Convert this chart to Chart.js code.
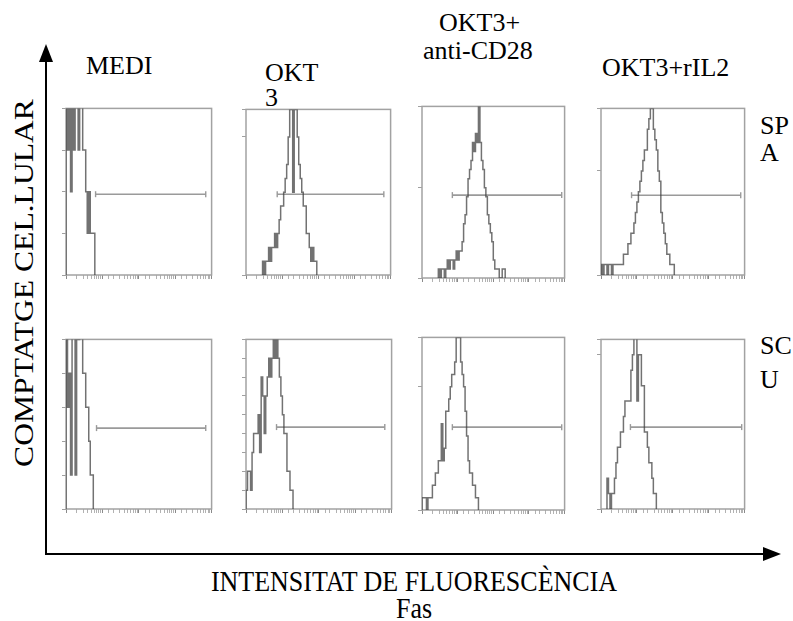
<!DOCTYPE html>
<html>
<head>
<meta charset="utf-8">
<script src="https://cdn.jsdelivr.net/npm/chart.js@4.4.1/dist/chart.umd.min.js"></script>
<style>
  html, body { margin: 0; padding: 0; background: #fff; }
  #page { position: relative; width: 793px; height: 621px; overflow: hidden; color: #000; }
  .serif { font-family: "Liberation Serif", "DejaVu Serif", serif; }
  .lbl { position: absolute; font-size: 26px; line-height: 26px; white-space: nowrap; }
  .axis-title { position: absolute; left: 114px; width: 600px; text-align: center;
                font-size: 26px; line-height: 26px; white-space: nowrap;
                transform: scaleY(1.17); transform-origin: 50% 0; }
  #ytitle { position: absolute; left: 24px; top: 283px; transform-origin: 0 0;
            transform: scale(1, 1.17) rotate(-90deg); }
  #ytitle span { display: block; transform: translate(-50%, -50%); font-size: 27px;
                 line-height: 27px; white-space: nowrap; }
  canvas { position: absolute; }
  svg { position: absolute; left: 0; top: 0; }
</style>
</head>
<body>
<div id="page">
  <svg width="793" height="621">
    <line x1="46" y1="555" x2="46" y2="60" stroke="#000" stroke-width="2"/>
    <polygon points="46,44 39,62 53,62" fill="#000"/>
    <line x1="45" y1="554" x2="764" y2="554" stroke="#000" stroke-width="2"/>
    <polygon points="781,554 763,547 763,561" fill="#000"/>
  </svg>

  <div class="lbl serif" style="left:86px; top:53px;">MEDI</div>
  <div class="lbl serif" style="left:265px; top:60px;">OKT</div>
  <div class="lbl serif" style="left:265px; top:85px;">3</div>
  <div class="lbl serif" style="left:439px; top:10px; width:80px; text-align:center;">OKT3+</div>
  <div class="lbl serif" style="left:423px; top:38px;">anti-CD28</div>
  <div class="lbl serif" style="left:602px; top:55px;">OKT3+rIL2</div>
  <div class="lbl serif" style="left:760px; top:113px;">SP</div>
  <div class="lbl serif" style="left:760px; top:140px;">A</div>
  <div class="lbl serif" style="left:760px; top:333px;">SC</div>
  <div class="lbl serif" style="left:760px; top:367px;">U</div>

  <div class="axis-title serif" style="top:566px;">INTENSITAT DE FLUORESCÈNCIA</div>
  <div class="axis-title serif" style="top:593px;">Fas</div>
  <div id="ytitle"><span class="serif">COMPTATGE CEL.LULAR</span></div>
</div>

<script>
// Fluorescence channels: 4 log decades, 24 histogram bins per decade.
const BINS_PER_DECADE = 24;
const X_MIN = 1;
const X_MAX = 10000;

const rowNames = ['SPA', 'SCU'];
const conditions = ['MEDI', 'OKT3', 'OKT3+anti-CD28', 'OKT3+rIL2'];

// Cell counts per bin (bin 0 starts at channel 10^0).
const spaMedi      = [5,3,6,2,5,3,6,5,3,6,5,3,3,2,1,2,1,1,1];
const spaOkt3      = [0,0,0,0,0,0,0,0,0,0,0,1,0,1,1,2,1,2,2,3,2,3,4,5,5,6,7,8,10,12,13,6,13,12,10,8,7,6,5,5,3,3,2,1,2,1,1];
const spaOkt3Cd28  = [0,0,0,0,0,0,0,0,0,0,0,1,0,1,1,0,1,2,1,2,2,1,2,3,2,3,3,4,6,7,9,11,12,13,15,14,16,15,20,15,13,12,10,9,7,6,5,4,2,1,1,1,0,0,1,1];
const spaOkt3Il2   = [1,0,1,1,0,1,1,0,1,1,1,1,1,1,1,2,2,2,3,3,4,4,5,6,7,8,9,10,11,12,12,14,15,16,18,14,13,12,10,9,6,5,4,3,2,2,1,1,1];
const scuMedi      = [6,3,4,1,6,6,1,6,5,6,6,4,4,3,3,2,1,1];
const scuOkt3      = [1,2,2,1,3,4,4,4,5,3,7,6,4,6,7,8,7,8,9,8,10,8,7,6,5,4,4,2,2,1,1];
const scuOkt3Cd28  = [1,1,1,0,1,1,1,2,2,3,3,4,4,7,4,5,8,8,9,10,11,11,12,15,14,15,12,11,10,8,6,4,3,3,2,2,1,1];
const scuOkt3Il2   = [0,0,0,0,2,1,0,1,1,2,3,4,4,5,5,6,7,7,7,7,9,10,12,12,7,10,10,8,8,5,5,4,3,3,2,1,1];

const panelSeries = [spaMedi, spaOkt3, spaOkt3Cd28, spaOkt3Il2,
                     scuMedi, scuOkt3, scuOkt3Cd28, scuOkt3Il2];

// Count axis range and tick step of each panel.
const countMax  = [4, 12, 19, 16, 5, 9, 14, 11];
const countStep = [1, 10, 10, 10, 1, 1, 10, 10];

// Positive-region marker: channel range and height (fraction of the count axis).
const gateFrom  = [6.5, 7.3, 7.1, 7.1, 6.9, 6.9, 7.1, 6.6];
const gateTo    = [6900, 6500, 8300, 7800, 6900, 6500, 8300, 8300];
const gateLevel = [0.485, 0.488, 0.483, 0.479, 0.477, 0.483, 0.48, 0.483];

// Plot boxes on the page: [left, top, width, height].
const panelBoxes = [
  [66, 106, 148, 169], [246, 107, 147, 168], [422, 104, 145, 174], [601, 106, 146, 169],
  [66, 337, 148, 172], [246, 337, 148, 172], [422, 335, 145, 175], [601, 337, 146, 172]
];

const PAD = { l: 8, t: 3, r: 3, b: 8 };
const histColor = 'rgba(60,60,60,0.72)';
const frameColor = '#a2a2a2';
const gateColor = '#9a9a9a';

function binEdge(i) { return Math.pow(10, i / BINS_PER_DECADE); }

function histogramPoints(counts) {
  const first = Math.max(0, counts.findIndex(c => c > 0));
  const pts = [{ x: binEdge(first), y: 0 }];
  for (let i = first; i < counts.length; i++) pts.push({ x: binEdge(i), y: counts[i] });
  pts.push({ x: binEdge(counts.length), y: 0 });
  return pts;
}

const framePlugin = {
  id: 'frame',
  beforeDatasetsDraw(chart) {
    const { ctx, chartArea: a } = chart;
    ctx.save();
    ctx.strokeStyle = frameColor;
    ctx.lineWidth = 1.5;
    ctx.strokeRect(a.left, a.top, a.right - a.left, a.bottom - a.top);
    ctx.restore();
  }
};

const page = document.getElementById('page');

panelSeries.forEach((counts, i) => {
  const [left, top, w, h] = panelBoxes[i];
  const canvas = document.createElement('canvas');
  canvas.width = w + PAD.l + PAD.r;
  canvas.height = h + PAD.t + PAD.b;
  canvas.style.left = (left - PAD.l) + 'px';
  canvas.style.top = (top - PAD.t) + 'px';
  canvas.setAttribute('aria-label', rowNames[Math.floor(i / 4)] + ' ' + conditions[i % 4]);
  page.appendChild(canvas);

  new Chart(canvas, {
    type: 'line',
    data: {
      datasets: [
        {
          data: histogramPoints(counts),
          stepped: true,
          borderColor: histColor,
          borderWidth: 1.5,
          pointRadius: 0,
          fill: false,
          yAxisID: 'y'
        },
        {
          data: [{ x: gateFrom[i], y: gateLevel[i] }, { x: gateTo[i], y: gateLevel[i] }],
          borderColor: gateColor,
          borderWidth: 1.6,
          pointStyle: 'line',
          pointRotation: 90,
          pointRadius: 3,
          pointBorderColor: gateColor,
          pointBorderWidth: 1.4,
          yAxisID: 'yg',
          clip: false
        }
      ]
    },
    options: {
      responsive: false,
      animation: false,
      devicePixelRatio: 1,
      events: [],
      layout: { padding: { left: 0, top: PAD.t, right: PAD.r, bottom: 0 } },
      plugins: { legend: { display: false }, tooltip: { enabled: false } },
      scales: {
        x: {
          type: 'logarithmic', min: X_MIN, max: X_MAX,
          afterFit(s) { s.height = PAD.b; },
          ticks: { display: false },
          border: { display: false },
          grid: {
            drawOnChartArea: false, drawTicks: true, tickLength: 4, lineWidth: 1,
            tickColor: c => (c.tick && c.tick.major) ? '#8a8a8a' : '#b2b2b2'
          }
        },
        y: {
          type: 'linear', min: 0, max: countMax[i],
          afterFit(s) { s.width = PAD.l; },
          ticks: { display: false, stepSize: countStep[i] },
          border: { display: false },
          grid: { drawOnChartArea: false, drawTicks: true, tickLength: 4, tickColor: '#a0a0a0' }
        },
        yg: { type: 'linear', min: 0, max: 1, display: false }
      }
    },
    plugins: [framePlugin]
  });
});
</script>
</body>
</html>
